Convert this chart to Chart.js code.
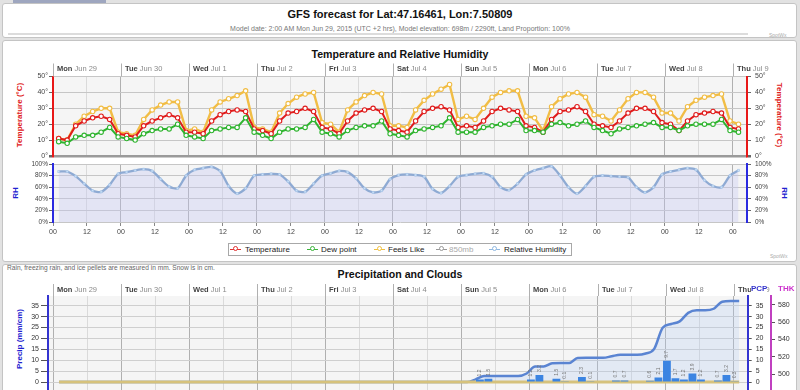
<!DOCTYPE html>
<html>
<head>
<meta charset="utf-8">
<script src="https://cdn.jsdelivr.net/npm/chart.js@4.4.1/dist/chart.umd.min.js"></script>
<style>
  html, body { margin:0; padding:0; }
  body { width:800px; height:390px; overflow:hidden; position:relative; background:#e2e2e2; font-family:"Liberation Sans", Arial, sans-serif; }
  .panel { position:absolute; left:2px; width:795px; background:#fff; border:1px solid #c4c4c4; border-radius:3px; box-sizing:border-box; }
  .ttl { position:absolute; left:0; width:800px; text-align:center; font-weight:bold; color:#111; white-space:nowrap; }
  .txt { position:absolute; white-space:nowrap; }
  canvas { position:absolute; left:0; }
  .vt { position:absolute; width:120px; height:12px; line-height:12px; text-align:center; white-space:nowrap; font-weight:bold; font-size:8px; }
  .legend { position:absolute; left:228px; top:243px; width:344px; height:13px; border:1px solid #a8a8a8; background:#fff; box-sizing:border-box; }
  .lg { position:absolute; top:0; height:11px; line-height:11px; font-size:8px; color:#222; white-space:nowrap; }
  .mk { position:absolute; top:5px; width:11px; height:0; border-top:1.5px solid; }
  .mk i { position:absolute; left:2.5px; top:-3.6px; width:3px; height:3px; border:1.2px solid; border-radius:50%; background:#fff; }
</style>
</head>
<body>
<div class="txt" style="left:13px;top:0;width:93px;height:3px;background:#9ea6bf;"></div>
<div class="panel" style="top:3px;height:35px;"></div>
<div class="ttl" style="top:8px;font-size:11px;line-height:13px;">GFS forecast for Lat:47.16461, Lon:7.50809</div>
<div class="ttl" style="top:24.5px;font-size:7px;line-height:8px;font-weight:normal;color:#777;">Model date: 2:00 AM Mon Jun 29, 2015 (UTC +2 hrs), Model elevation: 698m / 2290ft, Land Proportion: 100%</div>
<div class="txt" style="left:8px;top:32.5px;width:740px;height:0;border-top:2px solid #dcdcdc;"></div>
<div class="txt" style="left:769px;top:32px;font-size:5px;color:#aaa;">SpotWx</div>

<div class="panel" style="top:40px;height:222px;"></div>
<div class="ttl" style="top:48px;font-size:10.6px;line-height:12px;">Temperature and Relative Humidity</div>
<div class="vt" style="left:-40px;top:109px;color:#e02020;transform:rotate(-90deg);">Temperature (°C)</div>
<div class="vt" style="left:719px;top:109px;color:#e02020;transform:rotate(90deg);">Temperature (°C)</div>
<div class="vt" style="left:-44px;top:187px;color:#2020d0;transform:rotate(-90deg);">RH</div>
<div class="vt" style="left:724px;top:187px;color:#2020d0;transform:rotate(90deg);">RH</div>
<div class="txt" style="left:770px;top:253px;font-size:5px;color:#aaa;">SpotWx</div>

<div class="legend">
  <span class="mk" style="left:1px;border-color:#e03030;"><i style="border-color:#e03030;"></i></span><span class="lg" style="left:16px;">Temperature</span>
  <span class="mk" style="left:78px;border-color:#3cb43c;"><i style="border-color:#3cb43c;"></i></span><span class="lg" style="left:92px;">Dew point</span>
  <span class="mk" style="left:145px;border-color:#f0c040;"><i style="border-color:#f0c040;"></i></span><span class="lg" style="left:159px;">Feels Like</span>
  <span class="mk" style="left:207px;border-color:#999;"><i style="border-color:#999;"></i></span><span class="lg" style="left:220px;color:#aaa;">850mb</span>
  <span class="mk" style="left:260px;border-color:#90b8e0;"><i style="border-color:#90b8e0;"></i></span><span class="lg" style="left:275px;">Relative Humidity</span>
</div>

<div class="panel" style="top:264px;height:140px;"></div>
<div class="txt" style="left:7px;top:264px;font-size:6.6px;line-height:7px;color:#666;">Rain, freezing rain, and ice pellets are measured in mm. Snow is in cm.</div>
<div class="ttl" style="top:268px;font-size:10.6px;line-height:12px;">Precipitation and Clouds</div>
<div class="vt" style="left:-40px;top:333px;color:#2020d0;transform:rotate(-90deg);">Precip (mm/cm)</div>

<canvas id="cT" width="800" height="108" style="top:58px;"></canvas>
<canvas id="cR" width="800" height="100" style="top:150px;"></canvas>
<canvas id="cP" width="800" height="129" style="top:283px;"></canvas>
<div class="txt" style="left:751px;top:284px;font-size:8px;line-height:10px;font-weight:bold;color:#3333cc;background:#fff;">PCP</div>
<div class="txt" style="left:778px;top:284px;font-size:8px;line-height:10px;font-weight:bold;color:#cc33cc;">THK</div>

<script>
// ---------- data ----------
const days  = ['Mon','Tue','Wed','Thu','Fri','Sat','Sun','Mon','Tue','Wed','Thu'];
const dates = ['Jun 29','Jun 30','Jul 1','Jul 2','Jul 3','Jul 4','Jul 5','Jul 6','Jul 7','Jul 8','Jul 9'];
const hourTicks = ['00','12'];
const firstHour = 2;   // first forecast step: Mon Jun 29 02:00
const stepHours = 3;

const temperature = [
  11,10,19,22,24,25,23,14,
  13,12,19,22,24,26,24,15,
  15,14,22,26,28,29,28,17,
  16,14,22,27,28,30,28,18,
  17,14,22,27,29,30,28,17,
  16,15,22,28,30,31,29,18,
  19,18,22,28,30,29,28,19,
  18,15,23,28,29,31,28,20,
  19,18,22,27,30,30,28,21,
  20,16,22,26,27,28,27,18,
  17];
const dewPoint = [
  9,8,12,13,13,15,18,12,
  11,10,14,16,17,17,20,13,
  12,11,16,17,18,18,24,15,
  13,11,15,17,17,18,23,15,
  14,12,16,18,19,19,22,14,
  13,12,16,17,18,19,24,15,
  15,15,18,19,20,20,23,16,
  16,15,20,21,19,20,22,18,
  16,14,17,18,19,20,21,18,
  18,16,19,20,20,20,23,16,
  15];
const feelsLike = [
  11,10,20,25,28,30,30,15,
  14,13,23,29,32,34,34,16,
  17,15,29,34,36,38,41,18,
  17,15,27,33,37,39,40,21,
  20,15,29,34,38,40,39,19,
  19,18,29,35,39,42,45,23,
  25,23,30,37,40,41,41,25,
  24,16,31,36,39,40,37,26,
  25,22,29,36,40,40,37,27,
  27,22,31,35,37,38,39,22,
  20];
const humidity = [
  87,87,79,66,54,52,64,83,
  86,89,91,88,74,61,58,80,
  90,93,95,88,62,49,58,80,
  82,83,82,70,54,52,66,80,
  84,88,86,75,58,51,54,74,
  81,82,81,78,57,50,62,78,
  81,83,84,78,60,55,66,82,
  89,93,96,80,60,49,62,78,
  80,79,78,77,60,51,60,82,
  87,90,93,90,72,62,60,80,
  89];
// 3-hour precipitation totals (mm), each between two forecast steps
const precip3h = [
  0,0,0,0,0,0,0,0,0,0,
  0,0,0,0,0,0,0,0,0,0,
  0,0,0,0,0,0,0,0,0,0,
  0,0,0,0,0,0,0,0,0,0,
  0,0,0,0,0,0,0,0,0,1.2,
  1.5,0,0,0,0,1.2,3.2,0,1.5,0.1,
  0,2.3,0.1,0,0,0.7,0.7,0,0,0.6,
  2.1,9.7,1.7,1.2,3.9,1.2,0,0.7,3.2,0.3];
// accumulated precipitation (mm) at each forecast step
const precipTotal = [
  0,0,0,0,0,0,0,0,0,0,
  0,0,0,0,0,0,0,0,0,0,
  0,0,0,0,0,0,0,0,0,0,
  0,0,0,0,0,0,0,0,0,0,
  0,0,0,0,0,0,0,0,0,1.2,
  2.7,2.7,2.7,2.7,2.7,3.9,7.1,7.1,8.6,8.7,
  8.7,11.0,11.1,11.1,11.1,11.8,12.5,12.5,12.5,13.1,
  15.2,24.9,26.6,27.8,31.7,32.9,32.9,33.6,36.8,37.1,
  37.1];
const snowfall = [
  0,0,0,0,0,0,0,0,0,0,
  0,0,0,0,0,0,0,0,0,0,
  0,0,0,0,0,0,0,0,0,0,
  0,0,0,0,0,0,0,0,0,0,
  0,0,0,0,0,0,0,0,0,0,
  0,0,0,0,0,0,0,0,0,0,
  0,0,0,0,0,0,0,0,0,0,
  0,0,0,0,0,0,0,0,0,0,
  0];
const tempTicks = [0,10,20,30,40,50];
const rhTicks = [0,20,40,60,80,100];
const pcpTicks = [0,5,10,15,20,25,30,35];
const thkTicks = [500,520,540,560,580];

// ---------- helpers ----------
const FONT = '"Liberation Sans", Arial, sans-serif';
Chart.defaults.font.family = FONT;
const stepX = i => firstHour + stepHours * i;
const pts = arr => arr.map((v, i) => ({x: stepX(i), y: v}));
const gridHours = [];
days.forEach((d, k) => { gridHours.push(24 * k); if (k < days.length - 1) gridHours.push(24 * k + 12); });
const setTicks = list => s => { s.ticks = list.map(v => ({value: v})); };

const plotBg = {
  id: 'plotBg',
  beforeDraw(chart) {
    const {ctx, chartArea: a} = chart;
    ctx.save();
    ctx.fillStyle = '#f5f5f5';
    ctx.fillRect(a.left, a.top, a.right - a.left, a.bottom - a.top);
    ctx.restore();
  }
};
const dayLabels = {
  id: 'dayLabels',
  afterDraw(chart, args, o) {
    if (!o || !o.show) return;
    const {ctx, chartArea: a} = chart;
    const xs = chart.scales.x;
    ctx.save();
    days.forEach((d, k) => {
      const x = Math.round(xs.getPixelForValue(24 * k)) + 0.5;
      ctx.strokeStyle = '#b0b0b0'; ctx.lineWidth = 1;
      ctx.beginPath(); ctx.moveTo(x, a.top - o.ext); ctx.lineTo(x, a.top); ctx.stroke();
      ctx.textBaseline = 'middle'; ctx.textAlign = 'left';
      ctx.font = 'bold 7.5px ' + FONT; ctx.fillStyle = '#444';
      ctx.fillText(d, x + 3.5, a.top - o.dy);
      const w = ctx.measureText(d + ' ').width;
      ctx.font = '7.5px ' + FONT; ctx.fillStyle = '#8a8a8a';
      ctx.fillText(dates[k], x + 3.5 + w, a.top - o.dy);
    });
    ctx.restore();
  }
};
const barLabels = {
  id: 'barLabels',
  afterDatasetsDraw(chart) {
    const idx = chart.data.datasets.findIndex(ds => ds.type === 'bar');
    if (idx < 0) return;
    const meta = chart.getDatasetMeta(idx);
    const ctx = chart.ctx;
    meta.data.forEach((el, j) => {
      const v = precip3h[j];
      if (!v) return;
      ctx.save();
      ctx.translate(el.x, el.y - 3);
      ctx.rotate(-Math.PI / 2);
      ctx.font = '5px ' + FONT; ctx.fillStyle = '#777';
      ctx.textBaseline = 'middle'; ctx.textAlign = 'left';
      ctx.fillText(v.toFixed(1), 0, 0);
      ctx.restore();
    });
  }
};

const xGrid = {
  color: c => (c.tick && c.tick.value % 24 === 0) ? '#b0b0b0' : '#dadada',
  lineWidth: 1,
  offset: false
};
function baseOpts() {
  return {
    responsive: false, animation: false, devicePixelRatio: 1,
    events: [],
    plugins: { legend: {display: false}, tooltip: {enabled: false} },
  };
}

// ---------- temperature chart ----------
(function () {
  const o = baseOpts();
  o.layout = {padding: {top: 18.5, bottom: 10, left: 0, right: 0}};
  o.plugins.dayLabels = {show: true, ext: 13, dy: 7.5};
  const yCommon = (pos) => ({
    type: 'linear', position: pos, min: 0, max: 50,
    afterBuildTicks: setTicks(tempTicks),
    afterFit: s => { s.width = 53; },
    border: {display: true, color: '#e81818', width: 2},
    grid: {
      drawOnChartArea: pos === 'left',
      color: c => c.tick && c.tick.value === 0 ? '#9a9a9a' : '#c6c6c6',
      lineWidth: c => c.tick && c.tick.value === 0 ? 2.5 : 1,
      tickLength: 4, tickColor: '#666'
    },
    ticks: {padding: pos === 'left' ? 1 : 4, color: '#444', font: {size: 7}, callback: v => v + '°'}
  });
  o.scales = {
    x: {type: 'linear', min: 0, max: 245, offset: false, afterBuildTicks: setTicks(gridHours),
        afterFit: s => { s.height = 0; },
        ticks: {display: false}, border: {display: false},
        grid: Object.assign({drawTicks: false}, xGrid)},
    y: yCommon('left'),
    y2: yCommon('right')
  };
  const ln = (data, color, w) => ({
    data: pts(data), borderColor: color, borderWidth: w, tension: 0,
    pointRadius: 2.2, pointBackgroundColor: '#fff', pointBorderColor: color, pointBorderWidth: 1.1,
    yAxisID: 'y'
  });
  const dsFeels = Object.assign(ln(feelsLike, '#f1bd45', 2.4), {order: 3});
  const dsTemp = Object.assign(ln(temperature, '#e01c1c', 2), {order: 2});
  const dsDew = Object.assign(ln(dewPoint, '#2fb42f', 2), {order: 1});
  new Chart(document.getElementById('cT'), {
    type: 'line', data: {datasets: [dsFeels, dsTemp, dsDew]}, options: o, plugins: [plotBg, dayLabels]
  });
})();

// ---------- relative humidity chart ----------
(function () {
  const o = baseOpts();
  o.layout = {padding: {top: 14, bottom: 10, left: 0, right: 0}};
  const yCommon = (pos) => ({
    type: 'linear', position: pos, min: 0, max: 100,
    afterBuildTicks: setTicks(rhTicks),
    afterFit: s => { s.width = 53; },
    border: {display: true, color: '#2a2ae0', width: 2},
    grid: {drawOnChartArea: pos === 'left', color: '#c6c6c6', tickLength: 4, tickColor: '#666'},
    ticks: {padding: pos === 'left' ? 1 : 4, color: '#444', font: {size: 6.5}, callback: v => v + '%'}
  });
  o.scales = {
    x: {type: 'linear', min: 0, max: 245, offset: false, afterBuildTicks: setTicks(gridHours),
        afterFit: s => { s.height = 18; },
        border: {display: false},
        grid: Object.assign({drawTicks: true, tickLength: 4, tickColor: '#888'}, xGrid),
        ticks: {padding: 2, color: '#444', font: {size: 7}, maxRotation: 0, autoSkip: false,
                callback: v => hourTicks[(v % 24) / 12]}},
    y: yCommon('left'),
    y2: yCommon('right')
  };
  new Chart(document.getElementById('cR'), {
    type: 'line',
    data: {datasets: [{
      data: pts(humidity), borderColor: '#8eaad3', borderWidth: 2.3, tension: 0.25,
      fill: 'origin', backgroundColor: 'rgba(196,198,244,0.35)',
      pointStyle: 'rect', pointRadius: 1.4, pointBackgroundColor: '#d6e6f8', pointBorderColor: '#a6c6ea', pointBorderWidth: 0.7,
      yAxisID: 'y'
    }]},
    options: o, plugins: [plotBg]
  });
})();

// ---------- precipitation chart ----------
(function () {
  const o = baseOpts();
  o.layout = {padding: {top: 13, bottom: 9, left: 0, right: 0}};
  o.plugins.dayLabels = {show: true, ext: 12, dy: 6.5};
  o.scales = {
    x: {type: 'linear', min: -1.9, max: 245, offset: false, afterBuildTicks: setTicks(gridHours),
        afterFit: s => { s.height = 0; },
        ticks: {display: false}, border: {display: false},
        grid: Object.assign({drawTicks: false}, xGrid)},
    y: {type: 'linear', position: 'left', min: -9.63, max: 39.45,
        afterBuildTicks: setTicks(pcpTicks), afterFit: s => { s.width = 48; },
        border: {display: true, color: '#3434d0', width: 2},
        grid: {color: '#cfcfcf', tickLength: 7, tickColor: '#555'},
        ticks: {padding: 2, color: '#333', font: {size: 7}}},
    yR: {type: 'linear', position: 'right', weight: 0, min: -9.63, max: 39.45,
        afterBuildTicks: setTicks(pcpTicks), afterFit: s => { s.width = 23.3; },
        border: {display: true, color: '#3434d0', width: 2},
        grid: {drawOnChartArea: false, tickLength: 4, tickColor: '#555'},
        ticks: {padding: 4, color: '#333', font: {size: 7}}},
    yT: {type: 'linear', position: 'right', weight: 1, min: 466.4, max: 590.4,
        afterBuildTicks: setTicks(thkTicks), afterFit: s => { s.width = 29; },
        border: {display: true, color: '#c040c0', width: 2},
        grid: {drawOnChartArea: false, tickLength: 4, tickColor: '#555'},
        ticks: {padding: 3, color: '#333', font: {size: 7}}}
  };
  new Chart(document.getElementById('cP'), {
    type: 'bar',
    data: {datasets: [
      {type: 'bar', data: precip3h.map((v, j) => ({x: stepX(j) + stepHours / 2, y: v})),
       backgroundColor: '#3b84e2', borderWidth: 0, barPercentage: 0.92, categoryPercentage: 1,
       yAxisID: 'y', order: 0},
      {type: 'line', data: pts(snowfall), borderColor: '#d6c27c', borderWidth: 3, pointRadius: 0,
       tension: 0, yAxisID: 'y', order: 1},
      {type: 'line', data: pts(precipTotal), borderColor: '#5a84d2', borderWidth: 2.5, pointRadius: 0,
       cubicInterpolationMode: 'monotone', fill: 'origin', backgroundColor: 'rgba(175,200,240,0.28)',
       yAxisID: 'y', order: 2}
    ]},
    options: o, plugins: [plotBg, dayLabels, barLabels]
  });
})();
</script>
</body>
</html>
